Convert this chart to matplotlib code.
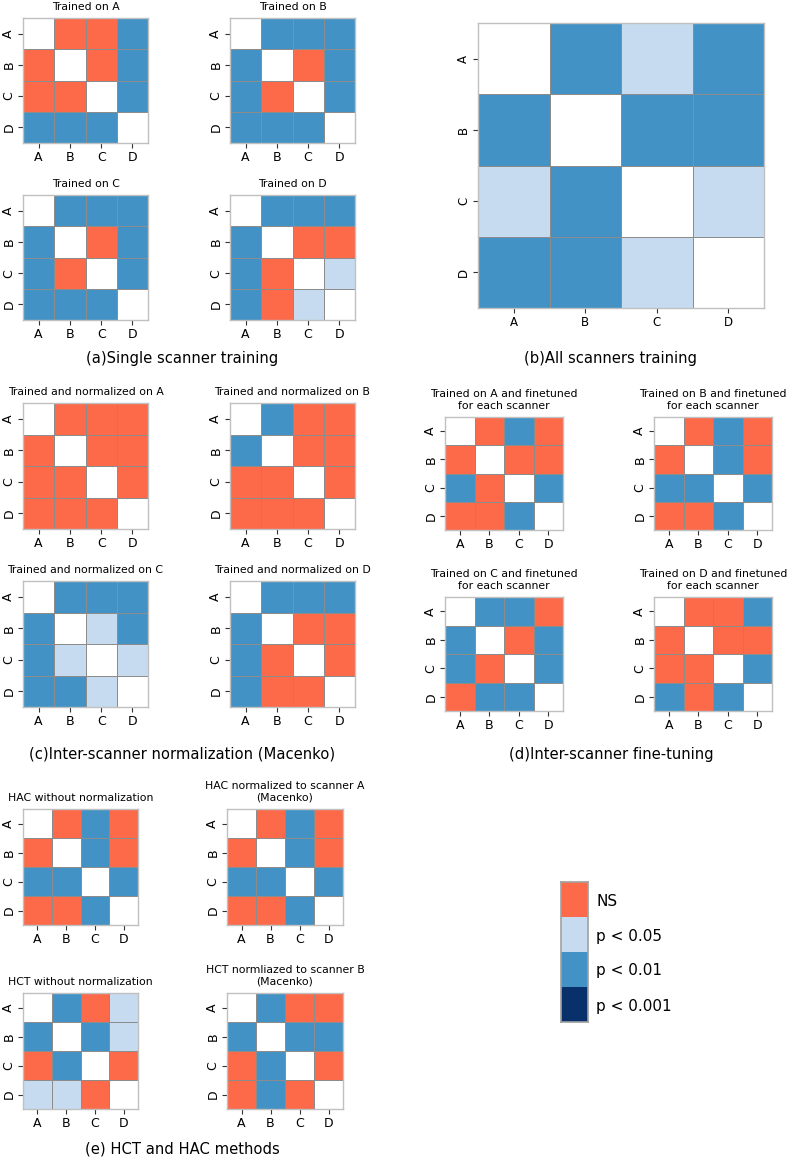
import matplotlib.pyplot as plt
import numpy as np
from matplotlib.colors import ListedColormap, BoundaryNorm

# 0 = same scanner (white), 1 = NS, 2 = p<0.05, 3 = p<0.01, 4 = p<0.001
scanners = ['A', 'B', 'C', 'D']
level_labels = ['NS', 'p < 0.05', 'p < 0.01', 'p < 0.001']
colors = ['white', '#fc6a4a', '#c6dbef', '#4292c6', '#08306b']

a_on_A = [[0, 1, 1, 3], [1, 0, 1, 3], [1, 1, 0, 3], [3, 3, 3, 0]]
a_on_B = [[0, 3, 3, 3], [3, 0, 1, 3], [3, 1, 0, 3], [3, 3, 3, 0]]
a_on_C = [[0, 3, 3, 3], [3, 0, 1, 3], [3, 1, 0, 3], [3, 3, 3, 0]]
a_on_D = [[0, 3, 3, 3], [3, 0, 1, 1], [3, 1, 0, 2], [3, 1, 2, 0]]

b_all = [[0, 3, 2, 3], [3, 0, 3, 3], [2, 3, 0, 2], [3, 3, 2, 0]]

c_norm_A = [[0, 1, 1, 1], [1, 0, 1, 1], [1, 1, 0, 1], [1, 1, 1, 0]]
c_norm_B = [[0, 3, 1, 1], [3, 0, 1, 1], [1, 1, 0, 1], [1, 1, 1, 0]]
c_norm_C = [[0, 3, 3, 3], [3, 0, 2, 3], [3, 2, 0, 2], [3, 3, 2, 0]]
c_norm_D = [[0, 3, 3, 3], [3, 0, 1, 1], [3, 1, 0, 1], [3, 1, 1, 0]]

d_ft_A = [[0, 1, 3, 1], [1, 0, 1, 1], [3, 1, 0, 3], [1, 1, 3, 0]]
d_ft_B = [[0, 1, 3, 1], [1, 0, 3, 1], [3, 3, 0, 3], [1, 1, 3, 0]]
d_ft_C = [[0, 3, 3, 1], [3, 0, 1, 3], [3, 1, 0, 3], [1, 3, 3, 0]]
d_ft_D = [[0, 1, 1, 3], [1, 0, 1, 1], [1, 1, 0, 3], [3, 1, 3, 0]]

e_hac = [[0, 1, 3, 1], [1, 0, 3, 1], [3, 3, 0, 3], [1, 1, 3, 0]]
e_hac_norm = [[0, 1, 3, 1], [1, 0, 3, 1], [3, 3, 0, 3], [1, 1, 3, 0]]
e_hct = [[0, 3, 1, 2], [3, 0, 3, 2], [1, 3, 0, 1], [2, 2, 1, 0]]
e_hct_norm = [[0, 3, 1, 1], [3, 0, 3, 3], [1, 3, 0, 1], [1, 3, 1, 0]]

W, H = 787, 1159
fig = plt.figure(figsize=(W / 100, H / 100), dpi=100)
cmap = ListedColormap(colors)
norm = BoundaryNorm(np.arange(-0.5, 5.5, 1), cmap.N)


def box(x0, y0, x1, y1):
    # pixel box (top-left origin) -> figure fraction
    return [x0 / W, 1 - y1 / H, (x1 - x0) / W, (y1 - y0) / H]


def heat(rect, data, title, tick_fs=9, title_fs=7.8):
    ax = fig.add_axes(box(*rect))
    ax.pcolormesh(np.array(data), cmap=cmap, norm=norm, edgecolors='#8c8c8c', linewidth=0.6)
    ax.set_xlim(0, 4)
    ax.set_ylim(4, 0)
    ax.set_xticks(np.arange(4) + 0.5, scanners, fontsize=tick_fs)
    ax.set_yticks(np.arange(4) + 0.5, scanners, fontsize=tick_fs, rotation=90, va='center')
    ax.tick_params(length=3.5, width=0.8, color='#333333', pad=2)
    for s in ax.spines.values():
        s.set_color('#c0c0c0')
        s.set_linewidth(1)
    if title:
        ax.set_title(title, fontsize=title_fs, pad=6)
    return ax


# (a)
heat((23, 18, 148, 143), a_on_A, 'Trained on A')
heat((230, 18, 355, 143), a_on_B, 'Trained on B')
heat((23, 195, 148, 320), a_on_C, 'Trained on C')
heat((230, 195, 355, 320), a_on_D, 'Trained on D')
fig.text(182 / W, 1 - 359 / H, '(a)Single scanner training', ha='center', va='center', fontsize=10.6)

# (b)
heat((478, 23, 764, 308), b_all, None, tick_fs=8.5)
fig.text(611 / W, 1 - 359 / H, '(b)All scanners training', ha='center', va='center', fontsize=10.6)

# (c)
heat((23, 403, 148, 529), c_norm_A, 'Trained and normalized on A')
heat((230, 403, 355, 529), c_norm_B, 'Trained and normalized on B')
heat((23, 581, 148, 707), c_norm_C, 'Trained and normalized on C')
heat((230, 581, 355, 707), c_norm_D, 'Trained and normalized on D')
fig.text(182 / W, 1 - 754 / H, '(c)Inter-scanner normalization (Macenko)', ha='center', va='center', fontsize=10.6)

# (d)
heat((445, 417, 563, 530), d_ft_A, 'Trained on A and finetuned\nfor each scanner')
heat((654, 417, 772, 530), d_ft_B, 'Trained on B and finetuned\nfor each scanner')
heat((445, 597, 563, 711), d_ft_C, 'Trained on C and finetuned\nfor each scanner')
heat((654, 597, 772, 711), d_ft_D, 'Trained on D and finetuned\nfor each scanner')
fig.text(611 / W, 1 - 754 / H, '(d)Inter-scanner fine-tuning', ha='center', va='center', fontsize=10.6)

# (e)
heat((23, 809, 138, 925), e_hac, 'HAC without normalization')
heat((227, 809, 343, 925), e_hac_norm, 'HAC normalized to scanner A\n(Macenko)')
heat((23, 993, 138, 1109), e_hct, 'HCT without normalization')
heat((227, 993, 343, 1109), e_hct_norm, 'HCT normliazed to scanner B\n(Macenko)')
fig.text(182 / W, 1 - 1149 / H, '(e) HCT and HAC methods', ha='center', va='center', fontsize=10.6)

# legend bar
lax = fig.add_axes(box(561, 882, 588, 1022))
lax.pcolormesh(np.arange(1, 5).reshape(4, 1), cmap=cmap, norm=norm, edgecolors='none')
lax.set_xlim(0, 1)
lax.set_ylim(4, 0)
lax.set_xticks([])
lax.yaxis.tick_right()
lax.set_yticks(np.arange(4) + 0.5, level_labels, fontsize=11)
lax.tick_params(length=0, pad=6)
for s in lax.spines.values():
    s.set_color('#a0a0a0')
    s.set_linewidth(1.2)

fig.savefig('out.png', dpi=100)
